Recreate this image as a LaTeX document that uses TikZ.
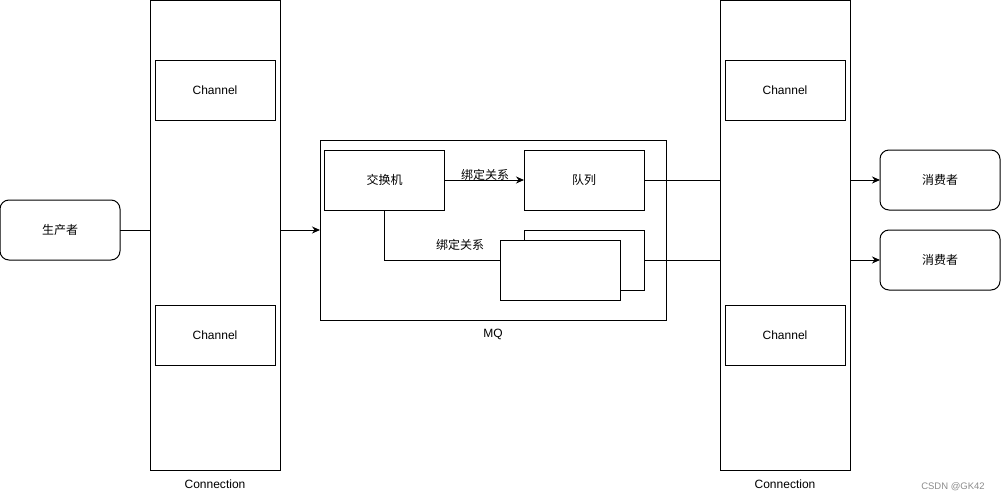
\documentclass[tikz,border=0pt]{standalone}
\usepackage{fontspec}
\setmainfont{Liberation Sans}
\newfontfamily\cjk{Noto Sans CJK SC}
\usetikzlibrary{arrows.meta}
\begin{document}
\begin{tikzpicture}[x=1pt,y=-1pt,
  box/.style={draw=black,line width=1pt,fill=white,inner sep=0pt,outer sep=0pt,font=\fontsize{12}{14}\selectfont},
  rbox/.style={box,rounded corners=9pt,minimum width=120pt,minimum height=60pt},
  chan/.style={box,minimum width=120pt,minimum height=60pt},
  conn/.style={box,minimum width=130pt,minimum height=470pt},
  lbl/.style={inner sep=0pt,font=\fontsize{12}{14}\selectfont},
  clbl/.style={inner sep=0pt,font=\cjk\fontsize{12}{14}\selectfont},
  wire/.style={line width=1pt},
  arr/.style={wire,-{Stealth[length=8pt,width=7pt]}}]
\useasboundingbox (0,0) rectangle (1001,501);
% connections
\node[conn] (conL) at (215,235) {};
\node[conn] (conR) at (785,235) {};
\node[chan] (ch1) at (215,90) {Channel};
\node[chan] (ch2) at (215,335) {Channel};
\node[chan] (ch3) at (785,90) {Channel};
\node[chan] (ch4) at (785,335) {Channel};
\node[lbl] (connLblL) at (215,484) {Connection};
\node[lbl] (connLblR) at (785,484) {Connection};
% producer
\node[rbox,font=\cjk\fontsize{12}{14}\selectfont] (prod) at (60,230) {生产者};
% MQ
\node[box,minimum width=346pt,minimum height=180pt] (mq) at (493,230) {};
\node[lbl] (mqlbl) at (493,334) {MQ};
\node[chan,font=\cjk\fontsize{12}{14}\selectfont] (exch) at (384.5,180) {交换机};
\node[chan,font=\cjk\fontsize{12}{14}\selectfont] (queue) at (584,180) {队列};
\node[chan] (back) at (584,260) {};
\draw[wire] (exch.south) |- (back.west);
\node[chan] (front) at (560,270) {};
\draw[arr] (exch.east) -- (queue.west);
\node[clbl] (bind1) at (485,175) {绑定关系};
\node[clbl] (bind2) at (460,245) {绑定关系};
% consumers
\node[rbox,font=\cjk\fontsize{12}{14}\selectfont] (cons1) at (940,180) {消费者};
\node[rbox,font=\cjk\fontsize{12}{14}\selectfont] (cons2) at (940,260) {消费者};
% wires
\draw[wire] (prod.east) -- (prod.east -| conL.west);
\draw[arr] (conL.east |- mq.west) -- (mq.west);
\draw[wire] (queue.east) -- (queue.east -| conR.west);
\draw[wire] (back.east) -- (back.east -| conR.west);
\draw[arr] (conR.east |- cons1.west) -- (cons1.west);
\draw[arr] (conR.east |- cons2.west) -- (cons2.west);
% watermark
\node[inner sep=0pt,text=black!45,font=\fontsize{9.5}{11}\selectfont] (wm) at (953,487) {CSDN @GK42};
\end{tikzpicture}
\end{document}
